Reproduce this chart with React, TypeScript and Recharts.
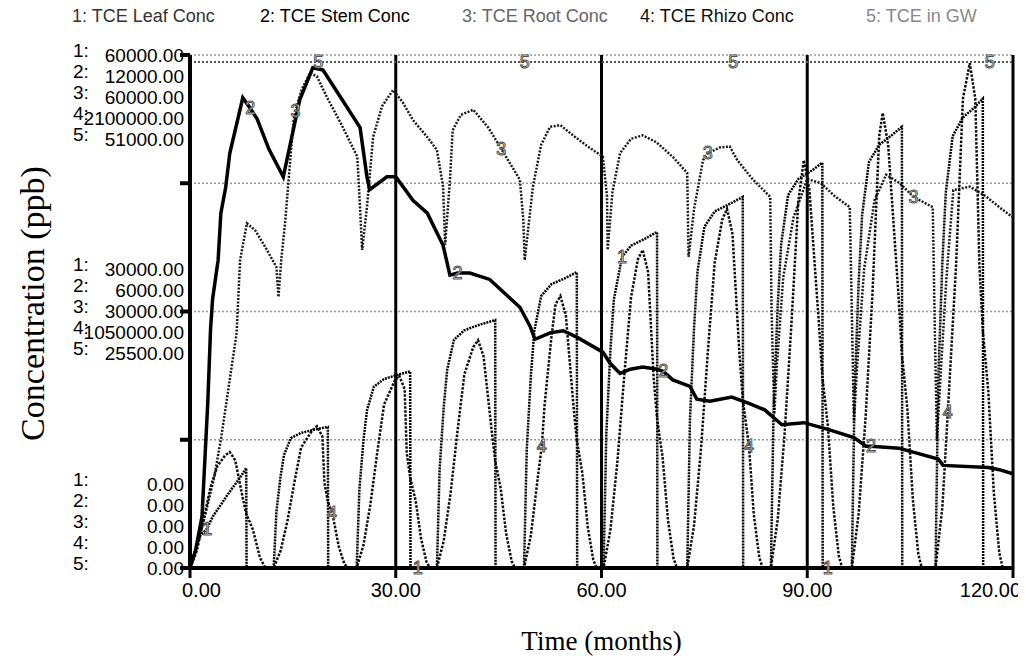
import { LineChart, Line, XAxis, YAxis, CartesianGrid } from "recharts";

const seriesNames = ["TCE Leaf Conc", "TCE Stem Conc", "TCE Root Conc", "TCE Rhizo Conc", "TCE in GW"];
const scaleMax = [60000, 12000, 60000, 2100000, 51000];
const timeTicks = [0, 30, 60, 90, 120];
const concTicks = [0, 15000, 30000, 45000, 60000];

// [month, ppb]
const leafConc: [number, number][] = [
  [0, 0], [0.7, 2000], [1.5, 3800], [2.5, 4600], [3.3, 6000], [4.5, 7400], [5.5, 8600], [6.5, 9700], [7.5, 10800], [8.2, 11700], [8.25, 0], [12.2, 0],
  [12.6, 6600], [13.2, 10700], [13.7, 13200], [14.7, 15200], [16.2, 15800], [18.2, 16200], [20.1, 16500], [20.15, 0], [24.3, 0],
  [24.7, 9200], [25.3, 15000], [25.8, 18400], [26.8, 21200], [28.3, 22100], [30.3, 22600], [32.1, 23000], [32.15, 0], [33.2, 0], [36, 0],
  [36.4, 11600], [37, 18900], [37.5, 23200], [38.5, 26700], [40, 27800], [42, 28400], [44.5, 29000], [44.55, 0], [48.7, 0],
  [49.1, 13800], [49.7, 22500], [50.2, 27700], [51.2, 31800], [52.7, 33200], [54.7, 33900], [56.4, 34600], [56.45, 0], [60.3, 0],
  [60.7, 15700], [61.3, 25500], [61.8, 31400], [63, 36400], [64.3, 37700], [66.3, 38500], [68.1, 39300], [68.15, 0], [72.5, 0],
  [72.9, 17400], [73.5, 28200], [74, 34700], [75, 39900], [76.5, 41700], [78.5, 42500], [80.6, 43400], [80.65, 0], [84.7, 0],
  [85.1, 19000], [85.7, 30800], [86.2, 37900], [87.2, 43600], [88.7, 45500], [90.7, 46500], [92.2, 47400], [92.25, 0], [93, 0], [96.5, 0],
  [96.9, 20600], [97.5, 33500], [98, 41300], [99, 47500], [100.5, 49500], [102.3, 50600], [103.8, 51600], [103.85, 0], [108.7, 0],
  [109.1, 22000], [109.7, 35700], [110.2, 43900], [111.2, 50500], [112.7, 52700], [114.3, 53800], [115.6, 54900], [115.65, 0], [120, 0],
];

const stemConc: [number, number][] = [
  [0, 0], [0.8, 400], [1.75, 1200], [2.6, 3900], [3, 5600], [3.3, 6300], [4.1, 7200], [4.5, 8300], [5.2, 8900], [5.8, 9700], [7.7, 11000],
  [8.8, 10750], [9.8, 10500], [11.5, 9800], [13.6, 9150], [16, 10950], [17.9, 11700], [19.4, 11650], [22, 11000], [24.8, 10300],
  [25.8, 9150], [26.2, 8850], [28.7, 9150], [30, 9150], [32.5, 8600], [34.6, 8300], [36.9, 7550], [37.9, 6850], [39, 6900],
  [40.8, 6900], [43.7, 6750], [48.1, 6100], [49.6, 5650], [50.3, 5350], [52.5, 5500], [54.4, 5550], [56.4, 5400], [60.2, 5050],
  [61.2, 4800], [62.7, 4550], [64.2, 4650], [66, 4700], [68.1, 4650], [69, 4600], [70.4, 4400], [72.9, 4250], [73.9, 3950],
  [75.8, 3900], [79, 4000], [81.5, 3850], [83.8, 3700], [86.3, 3350], [89.5, 3400], [92.9, 3250], [96.8, 3050], [98.6, 2850],
  [99.3, 2850], [103.4, 2800], [105.7, 2700], [109.1, 2550], [109.8, 2400], [116.4, 2350], [118, 2300], [120, 2200],
];

const rootConc: [number, number][] = [
  [0, 0], [1, 2500], [2, 5500], [3.5, 10500], [4.5, 15000], [5.5, 20400], [6.8, 27500], [7.3, 36000], [8.3, 40300], [9.5, 39500],
  [11, 37500], [12.6, 35200], [12.9, 31700], [13.3, 36000], [13.9, 40700], [15.1, 52400], [15.4, 53500], [16.3, 56000], [17.5, 57900],
  [18.5, 57500], [20, 55000], [22, 52000], [24.4, 48100], [24.8, 42000], [25.1, 37200], [25.8, 42200], [26.7, 50400], [28, 54000],
  [29.6, 55900], [31, 54500], [32.5, 52400], [34.5, 50500], [36, 48900], [36.9, 44600], [37.2, 37800], [37.9, 45400], [38.3, 51200],
  [39.5, 53000], [41.3, 53600], [43.5, 51500], [45.4, 49000], [48.1, 45400], [48.6, 40700], [48.8, 36000], [50, 44600], [51.2, 49500],
  [52.5, 51600], [54, 51800], [56, 50500], [58, 49300], [60.2, 48100], [60.8, 43500], [60.9, 37200], [61.6, 44000], [62.7, 48500],
  [64.3, 50200], [66, 50600], [68, 49800], [70.5, 48000], [72.5, 46200], [72.6, 41000], [72.7, 36400], [73.5, 42000], [74.8, 47700],
  [75.5, 48500], [77.3, 49200], [78.7, 49300], [79.8, 47700], [82, 45500], [84.6, 43400], [84.8, 30000], [85.2, 18000], [85.6, 24000],
  [86.5, 34000], [88, 41000], [90, 45500], [92, 45000], [94, 43500], [96.2, 42200], [96.5, 30000], [96.8, 17000], [97.3, 24000],
  [98.3, 35000], [99.8, 43000], [101.5, 46000], [103.5, 45000], [105.5, 43400], [108.3, 42200], [108.6, 28000], [108.9, 15000],
  [109.4, 22000], [110.3, 34000], [111.3, 44200], [113.7, 44600], [116, 43500], [118, 42200], [120, 41000],
];

const rhizoConc: [number, number][] = [
  [0, 0], [1, 71000], [2, 200000], [3, 332000], [4, 418000], [5.1, 460000], [5.8, 474600], [6.6, 441000], [7.7, 285000], [8.2, 223000],
  [9.2, 155000], [10.2, 42000], [11, 0], [12.2, 0],
  [13.2, 69600], [14.2, 191400], [15.2, 348000], [16.2, 493000], [17.8, 562600], [18.5, 580000], [19.3, 539400], [19.6, 348000],
  [20.1, 272600], [20.7, 225000], [20.9, 203000], [21.7, 87000], [22.5, 17400], [23, 0], [24.3, 0],
  [25.3, 94500], [26.3, 259900], [27.3, 472500], [28.3, 669400], [29.8, 763900], [30.5, 787500], [31.3, 732400], [31.6, 472500],
  [32.1, 370100], [32.9, 275600], [33.7, 118100], [34.5, 23600], [35, 0], [36, 0],
  [37, 111900], [38, 307700], [39, 559400], [40, 792500], [41.3, 904400], [42, 932400], [42.8, 867100], [44, 559400], [44.5, 438200],
  [45.3, 326300], [46.1, 139900], [46.9, 28000], [47.4, 0], [48.7, 0],
  [49.7, 133600], [50.7, 367300], [51.3, 500000], [51.7, 667800], [52.7, 946100], [53.3, 1079600], [54, 1113000], [54.8, 1035100],
  [55.9, 667800], [56.4, 523100], [57.2, 389600], [58, 167000], [58.8, 33400], [59.3, 0], [60.3, 0],
  [61.3, 156200], [62.3, 429700], [63.3, 781200], [64.3, 1106700], [65.3, 1262900], [66, 1302000], [66.8, 1210900], [67.6, 781200],
  [68.1, 611900], [68.9, 455700], [69.7, 195300], [70.5, 39100], [71, 0], [72.5, 0],
  [73.5, 176400], [74.5, 485100], [75.5, 882000], [76.5, 1249500], [77.6, 1425900], [78.3, 1470000], [79.1, 1367100], [80.1, 882000],
  [80.6, 690900], [81.5, 500000], [82.2, 220500], [83, 44100], [83.5, 0], [84.7, 0],
  [85.7, 200300], [86.7, 550900], [87.7, 1001700], [88.7, 1502600], [89.5, 1669500], [90.3, 1552600], [91.7, 1001700], [92.2, 784700],
  [93, 584300], [93.8, 250400], [94.6, 50100], [95.1, 0], [96.5, 0],
  [97.5, 223500], [98.5, 614700], [99.5, 1117600], [100.5, 1769600], [101, 1862700], [101.8, 1732300], [103.3, 1117600], [103.8, 875500],
  [104.6, 652000], [105.4, 279400], [106.2, 55900], [106.7, 0], [108.7, 0],
  [109.7, 248000], [110.5, 640000], [111.7, 1239800], [112.7, 1921800], [113.7, 2066400], [114.5, 1921800], [115.1, 1239800],
  [115.6, 971200], [116.4, 723200], [117.2, 310000], [118, 62000], [118.5, 0], [120, 0],
];

const gwConc: [number, number][] = [
  [0, 50300], [18.7, 50300], [48.8, 50300], [79.2, 50300], [116.6, 50300], [120, 50300],
];

// where STELLA printed the series number on each curve
const leafLabelAt = [2.5, 33.2, 63, 93];
const stemLabelAt = [8.8, 39, 69, 99.3];
const rootLabelAt = [15.4, 45.4, 75.5, 105.5];
const rhizoLabelAt = [20.7, 51.3, 81.5, 110.5];
const gwLabelAt = [18.7, 48.8, 79.2, 116.6];

const sans = "'Liberation Sans', Arial, Helvetica, sans-serif";
const serif = "'Liberation Serif', 'Times New Roman', serif";

const AXIS_X = 182; // left edge of plot in svg coords (YAxis width, no left margin)

const toRows = (pts: [number, number][]) => pts.map(([t, v]) => ({ t, v }));

const groupRow: Record<number, number> = { 60000: 0, 30000: -2, 0: -4 };

function ScaleTick(props: any) {
  const { y, payload } = props;
  const x = AXIS_X;
  const v = payload.value as number;
  const mark = <line x1={x - 10} x2={x} y1={y} y2={y} stroke="#000" strokeWidth={4} />;
  if (!(v in groupRow)) return <g>{mark}</g>;
  const frac = v / scaleMax[0];
  return (
    <g>
      {mark}
      {scaleMax.map((m, i) => {
        const rowY = y + (groupRow[v] + i) * 21;
        return (
          <g key={i} fontFamily={sans} fontSize={19} fill="#000">
            <text x={x - 117} y={rowY - 5} dominantBaseline="central">{i + 1}:</text>
            <text x={x - 6} y={rowY} textAnchor="end" dominantBaseline="central">
              {(m * frac).toFixed(2)}
            </text>
          </g>
        );
      })}
    </g>
  );
}

function TimeTick(props: any) {
  const { x, y, payload } = props;
  const v = payload.value as number;
  const first = v === timeTicks[0];
  const last = v === timeTicks[timeTicks.length - 1];
  const anchor = first ? "start" : last ? "end" : "middle";
  const tx = first ? x - 8 : last ? x + 8 : x;
  return (
    <text x={tx} y={y} dy={15} textAnchor={anchor} fontFamily={sans} fontSize={20} fill="#000">
      {v.toFixed(2)}
    </text>
  );
}

function curveNumber(num: number, pts: [number, number][], at: number[]) {
  return (props: any) => {
    const { x, y, index } = props;
    const p = pts[index];
    if (!p || !at.includes(p[0])) return <g />;
    return (
      <text x={x} y={y} dy={6} textAnchor="middle" fontFamily={sans} fontSize={18}
        fill="#fff" stroke="#555" strokeWidth={1}>
        {num}
      </text>
    );
  };
}

const legendX = [64, 252, 454, 632, 858];
const legendColor = ["#333", "#000", "#666", "#111", "#888"];

export default function App() {
  return (
    <div style={{ position: "relative", width: 1018, height: 652 }}>
      {seriesNames.map((n, i) => (
        <div key={n} style={{
          position: "absolute", left: legendX[i], top: -2, fontFamily: sans, fontSize: 18,
          lineHeight: "20px", color: legendColor[i], whiteSpace: "nowrap",
        }}>
          {i + 1}: {n}
        </div>
      ))}
      <LineChart width={1018} height={652} margin={{ top: 47, right: 13, left: 0, bottom: 52 }}>
        <CartesianGrid yAxisId="leaf" vertical={false} stroke="#999" strokeDasharray="2 2" strokeWidth={1.5} />
        <CartesianGrid yAxisId="leaf" horizontal={false} stroke="#000" strokeWidth={3} />
        <XAxis
          dataKey="t" type="number" domain={[0, 120]} ticks={timeTicks} allowDataOverflow
          tick={<TimeTick />}
          axisLine={{ stroke: "#000", strokeWidth: 4 }}
          tickLine={{ stroke: "#000", strokeWidth: 3 }}
          tickSize={10} tickMargin={4} height={40}
          label={{
            content: (p: any) => {
              const vb = p.viewBox;
              return (
                <text x={vb.x + vb.width / 2} y={642} textAnchor="middle" fontFamily={serif} fontSize={27} fill="#000">
                  Time (months)
                </text>
              );
            },
          }}
        />
        <YAxis
          yAxisId="leaf" domain={[0, scaleMax[0]]} ticks={concTicks} width={182}
          tick={<ScaleTick />} tickLine={false}
          axisLine={{ stroke: "#000", strokeWidth: 4 }}
          label={{
            content: (p: any) => {
              const vb = p.viewBox;
              const cy = vb.y + vb.height / 2 - 8;
              return (
                <text x={24} y={cy} transform={`rotate(-90 24 ${cy})`} textAnchor="middle"
                  dominantBaseline="central" fontFamily={serif} fontSize={34} fill="#000">
                  Concentration (ppb)
                </text>
              );
            },
          }}
        />
        <YAxis yAxisId="stem" orientation="right" width={0} hide domain={[0, scaleMax[1]]} />
        <YAxis yAxisId="root" orientation="right" width={0} hide domain={[0, scaleMax[2]]} />
        <YAxis yAxisId="rhizo" orientation="right" width={0} hide domain={[0, scaleMax[3]]} />
        <YAxis yAxisId="gw" orientation="right" width={0} hide domain={[0, scaleMax[4]]} />

        <Line yAxisId="gw" data={toRows(gwConc)} dataKey="v" type="linear" stroke="#555" strokeWidth={2}
          strokeDasharray="2 2" dot={false} activeDot={false} isAnimationActive={false}
          label={curveNumber(5, gwConc, gwLabelAt)} />
        <Line yAxisId="root" data={toRows(rootConc)} dataKey="v" type="linear" stroke="#1a1a1a" strokeWidth={2.5}
          strokeDasharray="2 1.5" dot={false} activeDot={false} isAnimationActive={false}
          label={curveNumber(3, rootConc, rootLabelAt)} />
        <Line yAxisId="rhizo" data={toRows(rhizoConc)} dataKey="v" type="linear" stroke="#0d0d0d" strokeWidth={2.5}
          strokeDasharray="2.5 1.5" dot={false} activeDot={false} isAnimationActive={false}
          label={curveNumber(4, rhizoConc, rhizoLabelAt)} />
        <Line yAxisId="leaf" data={toRows(leafConc)} dataKey="v" type="linear" stroke="#000" strokeWidth={2.5}
          strokeDasharray="2 1" dot={false} activeDot={false} isAnimationActive={false}
          label={curveNumber(1, leafConc, leafLabelAt)} />
        <Line yAxisId="stem" data={toRows(stemConc)} dataKey="v" type="linear" stroke="#000" strokeWidth={3.5}
          dot={false} activeDot={false} isAnimationActive={false}
          label={curveNumber(2, stemConc, stemLabelAt)} />
      </LineChart>
    </div>
  );
}
